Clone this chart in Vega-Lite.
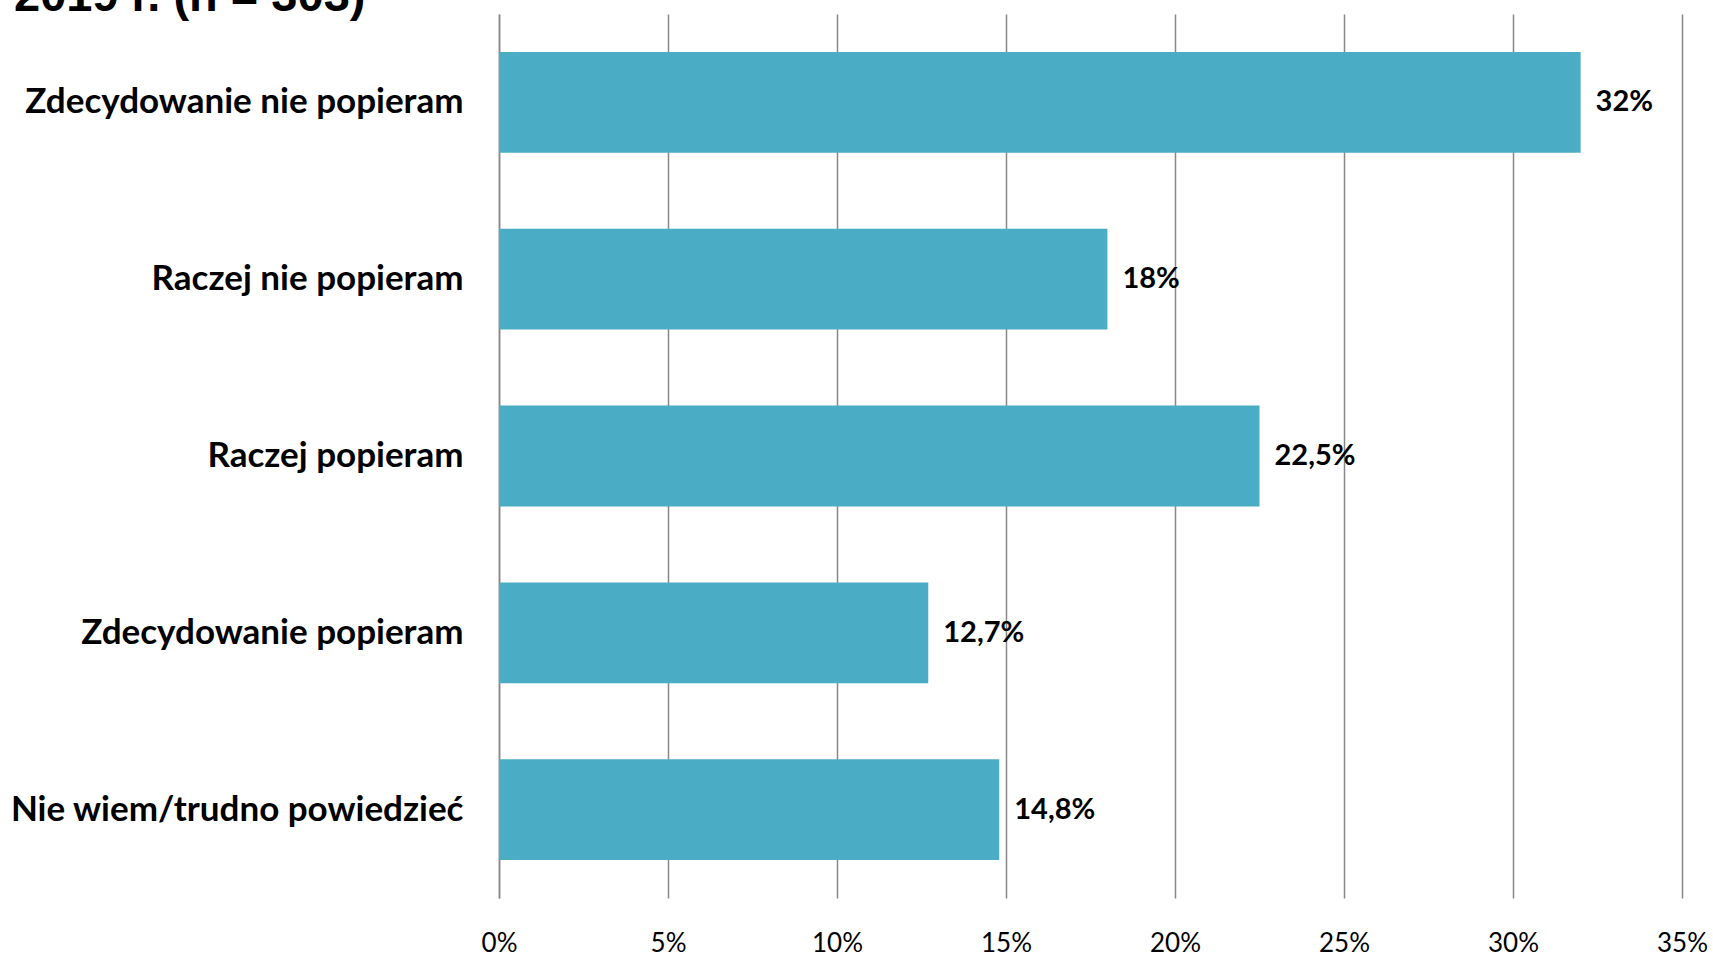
{
  "$schema": "https://vega.github.io/schema/vega-lite/v6.json",
  "autosize": "none",
  "width": 1183,
  "height": 884,
  "padding": {"left": 499, "top": 14, "right": 31, "bottom": 55},
  "background": "white",
  "title": {
    "text": "2019 r. (n = 303)",
    "anchor": "start",
    "frame": "group",
    "font": "Liberation Sans",
    "fontSize": 47,
    "fontWeight": "bold",
    "color": "black",
    "dx": -485,
    "dy": 7,
    "offset": 0
  },
  "data": {
    "values": [
      {"kategoria": "Zdecydowanie nie popieram", "wartosc": 32, "etykieta": "32%"},
      {"kategoria": "Raczej nie popieram", "wartosc": 18, "etykieta": "18%"},
      {"kategoria": "Raczej popieram", "wartosc": 22.5, "etykieta": "22,5%"},
      {"kategoria": "Zdecydowanie popieram", "wartosc": 12.7, "etykieta": "12,7%"},
      {"kategoria": "Nie wiem/trudno powiedzieć", "wartosc": 14.8, "etykieta": "14,8%"}
    ]
  },
  "encoding": {
    "y": {
      "field": "kategoria",
      "type": "nominal",
      "sort": null,
      "scale": {"paddingInner": 0.43, "paddingOuter": 0.215},
      "axis": {
        "title": null,
        "ticks": false,
        "domain": true,
        "domainColor": "#888888",
        "domainWidth": 1.5,
        "labelFont": "Lato",
        "labelFontSize": 35,
        "labelFontWeight": "bold",
        "labelColor": "black",
        "labelPadding": 36,
        "labelLimit": 600
      }
    },
    "x": {
      "field": "wartosc",
      "type": "quantitative",
      "scale": {"domain": [0, 35], "nice": false},
      "axis": {
        "title": null,
        "values": [0, 5, 10, 15, 20, 25, 30, 35],
        "labelExpr": "datum.value + '%'",
        "grid": true,
        "gridColor": "#888888",
        "gridWidth": 1.5,
        "ticks": false,
        "domain": false,
        "labelFont": "Lato",
        "labelFontSize": 26,
        "labelColor": "black",
        "labelPadding": 32,
        "labelFlush": false
      }
    }
  },
  "layer": [
    {"mark": {"type": "bar", "color": "#4BACC6"}},
    {
      "mark": {"type": "text", "align": "left", "dx": 15, "font": "Lato", "fontSize": 29, "fontWeight": "bold", "color": "black"},
      "encoding": {"text": {"field": "etykieta"}}
    }
  ],
  "config": {"view": {"stroke": null}}
}
